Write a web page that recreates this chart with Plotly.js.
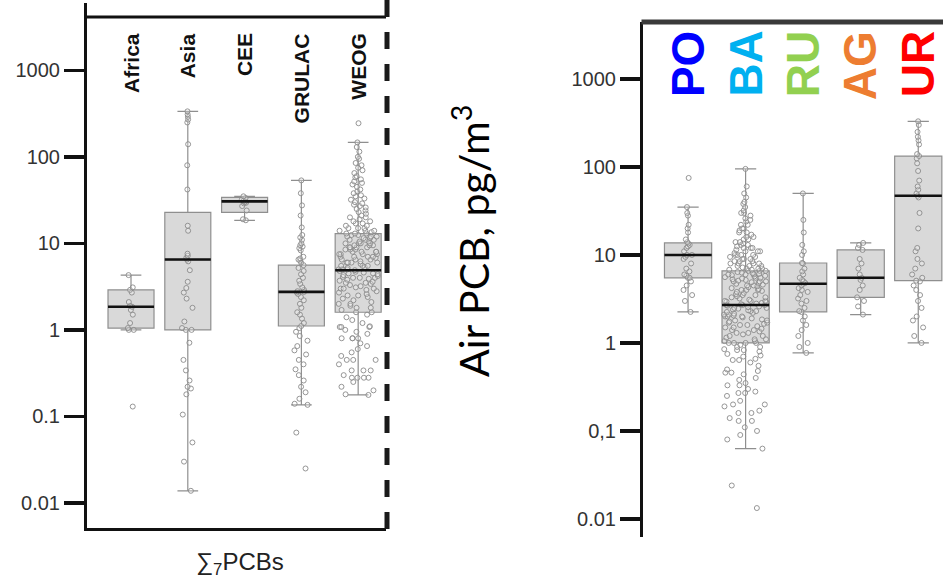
<!DOCTYPE html>
<html>
<head>
<meta charset="utf-8">
<script src="https://cdn.plot.ly/plotly-3.0.1.min.js"></script>
<style>html,body{margin:0;padding:0;background:#fff;}#chart{width:943px;height:583px;}</style>
</head>
<body>
<div id="chart"></div>
<script>
// ---------- Left panel (UN regions, sum of 7 PCBs) ----------
const leftCats = ["Africa", "Asia", "CEE", "GRULAC", "WEOG"];
const leftQ1 = [1.05, 1.0, 22.8, 1.11, 1.6];
const leftMedian = [1.85, 6.5, 30.6, 2.75, 4.9];
const leftQ3 = [2.9, 22.8, 34, 5.6, 13];
const leftLower = [1.0, 0.0138, 18.5, 0.136, 0.177];
const leftUpper = [4.3, 336, 35, 53.5, 147];

const africaPts = [4.3, 3.1, 2.9, 2.7, 2.1, 1.9, 1.85, 1.7, 1.5, 1.2, 1.05, 1.0, 1.0, 0.13];
const asiaPts = [336, 310, 290, 270, 250, 140, 80, 42, 16, 14, 7.6, 7.2, 6.8, 6.5, 6.2, 4.9, 3.6, 3.05, 2.7, 2.3, 1.8, 1.25, 1.05, 1.0, 1.0, 0.71, 0.45, 0.34, 0.26, 0.22, 0.21, 0.18, 0.105, 0.05, 0.03, 0.0138];
const ceePts = [35, 33.5, 32, 31, 30.5, 30, 29.5, 29, 27, 24, 19, 18.5];
const grulacPts = [53.5, 38, 27.5, 21, 15.3, 12.5, 11.7, 11, 10, 9.5, 9.2, 8.8, 8.3, 7, 6.7, 6.5, 6.3, 6, 5.6, 5.2, 4.8, 4.4, 4, 3.7, 3.4, 3.1, 2.9, 2.8, 2.75, 2.7, 2.6, 2.4, 2.2, 2, 1.8, 1.6, 1.5, 1.35, 1.2, 1.11, 1.05, 0.95, 0.85, 0.75, 0.65, 0.58, 0.52, 0.45, 0.4, 0.35, 0.3, 0.26, 0.22, 0.19, 0.16, 0.14, 0.136, 0.065, 0.025];
const weogPts = [245, 147, 130, 115, 100, 95, 85, 80, 75, 70, 65, 60, 58, 55, 52, 50, 48, 45, 42, 40, 38, 36, 35, 33, 32, 30, 29, 28, 27, 26, 25, 24, 23, 22, 21, 20, 20, 19, 18, 18, 17, 17, 16, 16, 15, 15, 15, 14, 14, 14, 13.5, 13, 13, 13, 12.5, 12.5, 12, 12, 12, 11.5, 11.5, 11, 11, 11, 10.5, 10.5, 10, 10, 10, 10, 9.5, 9.5, 9.5, 9, 9, 9, 9, 8.5, 8.5, 8.5, 8, 8, 8, 8, 7.5, 7.5, 7.5, 7.5, 7, 7, 7, 7, 6.8, 6.5, 6.5, 6.5, 6.2, 6, 6, 6, 6, 5.8, 5.5, 5.5, 5.5, 5.3, 5.2, 5, 5, 5, 5, 4.9, 4.8, 4.7, 4.6, 4.5, 4.5, 4.4, 4.3, 4.2, 4.1, 4, 4, 4, 3.9, 3.8, 3.7, 3.6, 3.5, 3.5, 3.4, 3.3, 3.2, 3.1, 3, 3, 3, 2.9, 2.8, 2.7, 2.6, 2.5, 2.5, 2.4, 2.3, 2.2, 2.1, 2, 2, 1.9, 1.8, 1.8, 1.7, 1.6, 1.6, 1.5, 1.4, 1.3, 1.2, 1.1, 1.08, 1.08, 1.08, 1.0, 0.95, 0.9, 0.8, 0.8, 0.8, 0.8, 0.7, 0.65, 0.6, 0.55, 0.5, 0.45, 0.45, 0.45, 0.4, 0.34, 0.34, 0.34, 0.3, 0.28, 0.28, 0.28, 0.28, 0.25, 0.22, 0.2, 0.18, 0.177];
const leftPts = [africaPts, asiaPts, ceePts, grulacPts, weogPts];
const leftTickVals = [0.01, 0.1, 1, 10, 100, 1000];
const leftTickText = ["0.01", "0.1", "1", "10", "100", "1000"];

// ---------- Right panel (site types) ----------
const rightCats = ["PO", "BA", "RU", "AG", "UR"];
const rightColors = ["#0000ff", "#00b0f0", "#92d050", "#ed7d31", "#ff0000"];
const rightQ1 = [5.5, 1.0, 2.25, 3.3, 5.1];
const rightMedian = [10, 2.7, 4.7, 5.5, 47];
const rightQ3 = [13.7, 6.6, 8.1, 11.4, 133];
const rightLower = [2.25, 0.063, 0.77, 2.1, 1.0];
const rightUpper = [35, 95, 50, 13.7, 330];

const poPts = [75, 35, 30, 28, 22, 20, 18, 15, 14, 13.5, 13, 12.5, 12, 11, 10, 10, 9.5, 9, 8, 7, 6.5, 6, 5.8, 5.5, 5.5, 5, 4.5, 4, 3.5, 3, 2.25];
const baPts = [95, 60, 50, 45, 40, 38, 35, 32, 30, 30, 28, 26, 25, 24, 22, 22, 20, 20, 19, 18, 18, 17, 16, 16, 15, 15, 14, 14, 13.5, 13, 13, 12.5, 12, 12, 12, 11.5, 11, 11, 11, 10.5, 10, 10, 10, 10, 9.5, 9.5, 9, 9, 9, 8.5, 8.5, 8.5, 8, 8, 8, 8, 7.5, 7.5, 7.5, 7.2, 7, 7, 7, 6.8, 6.8, 6.6, 6.6, 6.6, 6.4, 6.3, 6.2, 6.1, 6, 6, 6, 5.9, 5.8, 5.7, 5.6, 5.5, 5.5, 5.4, 5.3, 5.2, 5.1, 5, 5, 5, 4.9, 4.8, 4.7, 4.6, 4.5, 4.5, 4.4, 4.3, 4.2, 4.1, 4, 4, 4, 3.9, 3.8, 3.7, 3.6, 3.5, 3.5, 3.4, 3.3, 3.3, 3.2, 3.1, 3, 3, 3, 2.95, 2.9, 2.85, 2.8, 2.75, 2.7, 2.7, 2.7, 2.65, 2.6, 2.55, 2.5, 2.5, 2.45, 2.4, 2.35, 2.3, 2.3, 2.25, 2.2, 2.15, 2.1, 2.1, 2.05, 2, 2, 2, 1.95, 1.9, 1.85, 1.8, 1.8, 1.75, 1.7, 1.7, 1.65, 1.6, 1.6, 1.55, 1.5, 1.5, 1.45, 1.4, 1.4, 1.35, 1.3, 1.3, 1.25, 1.2, 1.2, 1.15, 1.1, 1.1, 1.05, 1.05, 1, 1, 1, 1, 0.95, 0.9, 0.9, 0.85, 0.83, 0.83, 0.8, 0.75, 0.72, 0.7, 0.66, 0.64, 0.64, 0.6, 0.55, 0.5, 0.48, 0.46, 0.46, 0.44, 0.4, 0.38, 0.35, 0.33, 0.33, 0.3, 0.28, 0.27, 0.27, 0.25, 0.22, 0.2, 0.2, 0.19, 0.17, 0.16, 0.16, 0.14, 0.13, 0.13, 0.11, 0.1, 0.09, 0.08, 0.063, 0.024, 0.0133];
const ruPts = [50, 25, 18, 13, 11, 10, 8.1, 8, 7, 6.5, 6, 5.5, 5.2, 5, 4.8, 4.7, 4.5, 4.2, 4, 3.8, 3.5, 3.2, 3, 2.8, 2.5, 2.3, 2.25, 2, 1.8, 1.6, 1.4, 1.2, 1, 0.9, 0.77];
const agPts = [13.7, 13, 12, 11.4, 9, 8, 7, 6, 5.5, 5.2, 4.5, 4, 3.3, 3, 2.6, 2.1];
const urPts = [330, 300, 250, 220, 200, 180, 140, 133, 125, 110, 90, 70, 60, 55, 50, 47, 45, 30, 20, 12, 11, 9, 8, 7, 6, 5.5, 5.1, 5, 4.5, 4, 3.5, 3, 2.5, 2, 1.8, 1.5, 1.2, 1.0];
const rightPts = [poPts, baPts, ruPts, agPts, urPts];
const rightTickVals = [0.01, 0.1, 1, 10, 100, 1000];
const rightTickText = ["0.01", "0,1", "1", "10", "100", "1000"];

// ---------- Build traces ----------
const W = 943, H = 583;
const px = v => v / W;          // paper-x from pixels (layout only)
const py = v => (H - v) / H;    // paper-y from pixels (layout only)

const BOX_FILL = "#d9d9d9", BOX_LINE = "#8f8f8f", PT_LINE = "#8a8a8a";

function panelTraces(cats, q1, med, q3, lo, hi, pts, xa, ya, bw) {
  const tr = [];
  tr.push({
    type: "box", x: cats, q1: q1, median: med, q3: q3, lowerfence: lo, upperfence: hi,
    xaxis: xa, yaxis: ya, width: bw, whiskerwidth: 0.45, boxpoints: false,
    fillcolor: BOX_FILL, line: {color: BOX_LINE, width: 1.2}, hoverinfo: "skip", showlegend: false
  });
  // one swarm per group; sparse groups stay narrow like a beeswarm
  cats.forEach((c, i) => {
    const vals = pts[i];
    tr.push({
      type: "box", x: vals.map(() => c), y: vals, xaxis: xa, yaxis: ya, width: bw,
      boxpoints: "all", jitter: Math.min(0.92, 0.12 + vals.length / 260), pointpos: 0,
      fillcolor: "rgba(0,0,0,0)", line: {color: "rgba(0,0,0,0)", width: 0}, whiskerwidth: 0,
      marker: {symbol: "circle", size: 5, color: "rgba(255,255,255,0.25)", line: {color: PT_LINE, width: 0.9}},
      hoverinfo: "skip", showlegend: false
    });
  });
  tr.push({
    type: "box", x: cats, q1: med, median: med, q3: med, lowerfence: med, upperfence: med,
    xaxis: xa, yaxis: ya, width: bw, whiskerwidth: 0, boxpoints: false,
    fillcolor: "rgba(0,0,0,0)", line: {color: "#111", width: 2.6}, hoverinfo: "skip", showlegend: false
  });
  return tr;
}

const data = [].concat(
  panelTraces(leftCats, leftQ1, leftMedian, leftQ3, leftLower, leftUpper, leftPts, "x", "y", 0.81),
  panelTraces(rightCats, rightQ1, rightMedian, rightQ3, rightLower, rightUpper, rightPts, "x2", "y2", 0.82)
);

const tickFont = {family: "Liberation Sans, Arial, sans-serif", size: 20, color: "#333"};

const annotations = [];
leftCats.forEach(c => annotations.push({
  x: c, xref: "x", y: py(31), yref: "paper", text: "<b>" + c + "</b>", showarrow: false,
  textangle: -90, xanchor: "center", yanchor: "top",
  font: {family: "Liberation Sans, Arial, sans-serif", size: 21, color: "#111"}
}));
rightCats.forEach((c, i) => annotations.push({
  x: c, xref: "x2", y: py(29), yref: "paper", text: "<b>" + c + "</b>", showarrow: false,
  textangle: -90, xanchor: "center", yanchor: "top",
  font: {family: "Liberation Sans, Arial, sans-serif", size: 46, color: rightColors[i]}
}));
annotations.push({
  x: px(471), xref: "paper", y: py(241), yref: "paper", text: "Air PCB, pg/m<sup>3</sup>",
  showarrow: false, textangle: -90, xanchor: "center", yanchor: "middle",
  font: {family: "Lato, Open Sans, sans-serif", size: 41, color: "#000"}
});
annotations.push({
  x: px(240), xref: "paper", y: py(563), yref: "paper", text: "∑<sub>7</sub>PCBs",
  showarrow: false, xanchor: "center", yanchor: "middle",
  font: {family: "Liberation Sans, Arial, sans-serif", size: 24, color: "#222"}
});

const layout = {
  width: W, height: H,
  margin: {l: 0, r: 0, t: 0, b: 0, pad: 0},
  paper_bgcolor: "#fff", plot_bgcolor: "rgba(0,0,0,0)",
  boxmode: "overlay", showlegend: false, hovermode: false,
  xaxis: {
    domain: [px(87), px(386)], anchor: "y", type: "category", range: [-0.775, 4.49],
    showline: true, linecolor: "#111", linewidth: 3, showticklabels: false, ticks: "",
    showgrid: false, zeroline: false, fixedrange: true
  },
  yaxis: {
    domain: [py(528), py(17)], anchor: "x", type: "log", range: [-2.29, 3.617],
    tickvals: leftTickVals, ticktext: leftTickText, ticks: "outside", ticklen: 20, tickwidth: 3.5,
    tickcolor: "#111", showline: true, linecolor: "#111", linewidth: 3,
    tickfont: tickFont, showgrid: false, zeroline: false, fixedrange: true
  },
  xaxis2: {
    domain: [px(643), 1], anchor: "y2", type: "category", range: [-0.783, 4.43],
    showline: false, showticklabels: false, ticks: "", showgrid: false, zeroline: false, fixedrange: true
  },
  yaxis2: {
    domain: [py(537), py(22)], anchor: "x2", type: "log", range: [-2.205, 3.647],
    tickvals: rightTickVals, ticktext: rightTickText, ticks: "outside", ticklen: 20, tickwidth: 3.5,
    tickcolor: "#111", showline: true, linecolor: "#111", linewidth: 3,
    tickfont: tickFont, showgrid: false, zeroline: false, fixedrange: true
  },
  shapes: [
    {type: "line", xref: "paper", yref: "paper", x0: px(85.5), x1: px(386), y0: py(17), y1: py(17), line: {color: "#111", width: 3}},
    {type: "line", xref: "paper", yref: "paper", x0: px(85.5), x1: px(85.5), y0: py(17), y1: py(3), line: {color: "#111", width: 3}},
    {type: "line", xref: "paper", yref: "paper", x0: px(387), x1: px(387), y0: py(0), y1: py(530), line: {color: "#1a1a1a", width: 5, dash: "17px,15px"}},
    {type: "line", xref: "paper", yref: "paper", x0: px(641.5), x1: 1, y0: py(22), y1: py(22), line: {color: "#3a3a3a", width: 5}}
  ],
  annotations: annotations
};

Plotly.newPlot("chart", data, layout, {staticPlot: true, displayModeBar: false});
</script>
</body>
</html>
